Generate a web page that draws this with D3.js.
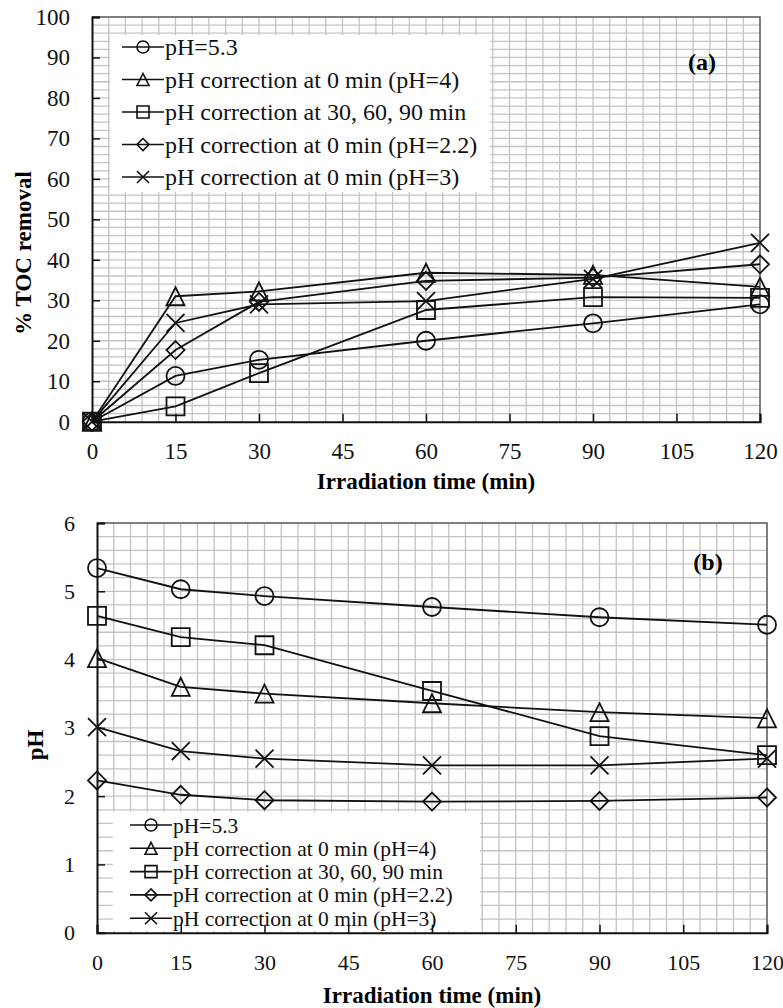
<!DOCTYPE html>
<html>
<head>
<meta charset="utf-8">
<script src="https://cdn.jsdelivr.net/npm/d3@7"></script>
<style>
  body { margin: 0; background: #fff; }
  svg { display: block; font-family: "Liberation Serif", "Times New Roman", serif; }
  svg text { font-family: "Liberation Serif", "Times New Roman", serif; }
</style>
</head>
<body>
<svg id="chart" width="783" height="1008"></svg>
<script>
// irradiation times (min)
const times = [0, 15, 30, 60, 90, 120];
const xTicks = [0, 15, 30, 45, 60, 75, 90, 105, 120];

const seriesNames = [
  "pH=5.3",
  "pH correction at 0 min (pH=4)",
  "pH correction at 30, 60, 90 min",
  "pH correction at 0 min (pH=2.2)",
  "pH correction at 0 min (pH=3)"
];
const seriesShapes = ["circle", "triangle", "square", "diamond", "cross"];

// (a) % TOC removal
const tocPH53 = [0, 11.3, 15.3, 20.0, 24.3, 29.0];
const tocPH4 = [0, 31.0, 32.2, 36.8, 36.3, 33.3];
const tocCorr = [0, 3.8, 12.0, 27.6, 30.8, 30.6];
const tocPH22 = [0, 17.7, 29.6, 34.8, 35.6, 38.9];
const tocPH3 = [0, 24.4, 29.0, 29.8, 35.3, 44.2];
const tocTicks = [0, 10, 20, 30, 40, 50, 60, 70, 80, 90, 100];

// (b) pH
const phPH53 = [5.34, 5.03, 4.93, 4.77, 4.62, 4.51];
const phPH4 = [4.02, 3.60, 3.50, 3.36, 3.23, 3.14];
const phCorr = [4.64, 4.33, 4.21, 3.54, 2.88, 2.60];
const phPH22 = [2.23, 2.02, 1.94, 1.92, 1.93, 1.98];
const phPH3 = [3.01, 2.66, 2.55, 2.45, 2.45, 2.55];
const phTicks = [0, 1, 2, 3, 4, 5, 6];

const svg = d3.select("#chart");

// marker outline paths, centred on 0,0
function markerPath(shape, s) {
  const h = s / 2;
  if (shape === "circle") {
    return `M${h},0A${h},${h} 0 1,1 ${-h},0A${h},${h} 0 1,1 ${h},0Z`;
  }
  if (shape === "triangle") {
    return `M0,${-h}L${h},${h}L${-h},${h}Z`;
  }
  if (shape === "square") {
    return `M${-h},${-h}H${h}V${h}H${-h}Z`;
  }
  if (shape === "diamond") {
    return `M0,${-h}L${h},0L0,${h}L${-h},0Z`;
  }
  // cross (x)
  return `M${-h},${-h}L${h},${h}M${h},${-h}L${-h},${h}`;
}

function drawPanel(opt) {
  const g = svg.append("g");
  const x = d3.scaleLinear().domain([0, 120]).range([opt.left, opt.right]);
  const y = d3.scaleLinear().domain([0, opt.yMax]).range([opt.bottom, opt.top]);

  // grid
  g.append("g").selectAll("line")
    .data(d3.range(3, 120, 3))
    .join("line")
    .attr("x1", d => x(d)).attr("x2", d => x(d))
    .attr("y1", opt.top).attr("y2", opt.bottom)
    .attr("stroke", "#c4c4c4").attr("stroke-width", 1.3);
  g.append("g").selectAll("line")
    .data(d3.range(1, Math.round(opt.yMax / opt.yMinor)).map(i => i * opt.yMinor))
    .join("line")
    .attr("x1", opt.left).attr("x2", opt.right)
    .attr("y1", d => y(d)).attr("y2", d => y(d))
    .attr("stroke", "#c4c4c4").attr("stroke-width", 1.3);

  // frame top/right
  g.append("path")
    .attr("d", `M${opt.left},${opt.top}H${opt.right}V${opt.bottom}`)
    .attr("fill", "none").attr("stroke", "#555").attr("stroke-width", 1.5);

  // legend box (white, no border)
  const lg = g.append("g");
  lg.append("rect")
    .attr("x", opt.legend.x).attr("y", opt.legend.y)
    .attr("width", opt.legend.w).attr("height", opt.legend.h)
    .attr("fill", "#fff");

  // axes
  const xAxis = g.append("g")
    .attr("transform", `translate(0,${opt.bottom})`)
    .call(d3.axisBottom(x).tickValues(xTicks).tickSize(-8).tickPadding(opt.xPad));
  const yAxis = g.append("g")
    .attr("transform", `translate(${opt.left},0)`)
    .call(d3.axisLeft(y).tickValues(opt.yTicks).tickFormat(d3.format("d"))
      .tickSize(-8).tickPadding(22));
  [xAxis, yAxis].forEach(a => {
    a.attr("font-family", null).attr("font-size", opt.tickFont);
    a.select(".domain").attr("stroke", "#111").attr("stroke-width", 2);
    a.selectAll(".tick line").attr("stroke", "#111").attr("stroke-width", 1.5);
    a.selectAll("text").attr("fill", "#111");
  });

  // series
  const line = d3.line().x((d, i) => x(times[i])).y(d => y(d));
  opt.series.forEach((vals, k) => {
    g.append("path")
      .attr("d", line(vals))
      .attr("fill", "none").attr("stroke", "#111").attr("stroke-width", 1.8);
    g.append("g").selectAll("path")
      .data(vals)
      .join("path")
      .attr("transform", (d, i) => `translate(${x(times[i])},${y(d)})`)
      .attr("d", markerPath(seriesShapes[k], 18))
      .attr("fill", "none").attr("stroke", "#111").attr("stroke-width", 1.8);
  });

  // legend entries
  seriesNames.forEach((name, k) => {
    const ly = opt.legend.rowY + k * opt.legend.rowH;
    const lx = opt.legend.lineX;
    lg.append("line")
      .attr("x1", lx).attr("x2", lx + 42)
      .attr("y1", ly).attr("y2", ly)
      .attr("stroke", "#111").attr("stroke-width", 1.6);
    lg.append("path")
      .attr("transform", `translate(${lx + 21},${ly})`)
      .attr("d", markerPath(seriesShapes[k], 12))
      .attr("fill", "none").attr("stroke", "#111").attr("stroke-width", 1.6);
    lg.append("text")
      .attr("x", lx + 43).attr("y", ly)
      .attr("dy", "0.35em")
      .attr("font-size", opt.legend.font).attr("fill", "#111")
      .text(name);
  });

  // panel letter
  g.append("text")
    .attr("x", opt.tag.x).attr("y", opt.tag.y).attr("dy", "0.35em")
    .attr("text-anchor", "middle")
    .attr("font-size", 24).attr("font-weight", "bold")
    .text(opt.tag.text);

  // axis titles
  g.append("text")
    .attr("x", (opt.left + opt.right) / 2).attr("y", opt.xTitleY).attr("dy", "0.35em")
    .attr("text-anchor", "middle")
    .attr("font-size", 23).attr("font-weight", "bold")
    .text("Irradiation time (min)");
  g.append("text")
    .attr("transform", `translate(${opt.yTitle.x},${opt.yTitle.y}) rotate(-90)`)
    .attr("dy", "0.35em")
    .attr("text-anchor", "middle")
    .attr("font-size", 23).attr("font-weight", "bold")
    .text(opt.yTitle.text);
}

drawPanel({
  left: 92, right: 760, top: 17, bottom: 421.7,
  yMax: 100, yMinor: 2, yTicks: tocTicks, xPad: 21, tickFont: 23,
  series: [tocPH53, tocPH4, tocCorr, tocPH22, tocPH3],
  legend: { x: 110, y: 35, w: 380, h: 157, lineX: 122, rowY: 47, rowH: 32.5, font: 24 },
  tag: { x: 702, y: 62, text: "(a)" },
  xTitleY: 481,
  yTitle: { x: 23, y: 253, text: "% TOC removal" }
});

drawPanel({
  left: 97, right: 767, top: 523, bottom: 932.7,
  yMax: 6, yMinor: 0.2, yTicks: phTicks, xPad: 22, tickFont: 22,
  series: [phPH53, phPH4, phCorr, phPH22, phPH3],
  legend: { x: 113, y: 812, w: 367, h: 119, lineX: 130, rowY: 825, rowH: 23.3, font: 21.5 },
  tag: { x: 708, y: 562, text: "(b)" },
  xTitleY: 995,
  yTitle: { x: 35, y: 745, text: "pH" }
});
</script>
</body>
</html>
